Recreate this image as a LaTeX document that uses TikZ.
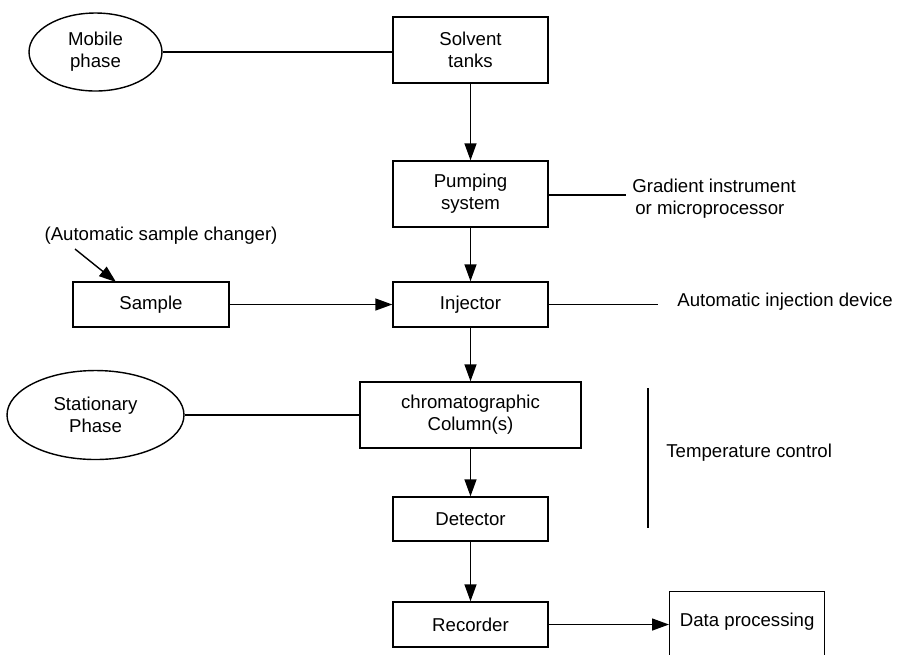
\documentclass[tikz,border=0pt]{standalone}
\usepackage{fontspec}
\setmainfont{Liberation Sans}
\usetikzlibrary{shapes.geometric,arrows.meta}
\tikzset{
	box/.style = {draw, line width=0.8pt, align=center, inner sep=0pt},
	blob/.style = {draw, ellipse, line width=0.8pt, align=center, inner sep=0pt},
	flow/.style = {line width=0.8pt, -{Triangle[length=0.34cm, width=0.24cm]}},
	tie/.style = {line width=0.8pt}
}
\begin{document}
\begin{tikzpicture} [x = 0.02cm, y = -0.02cm, font = \fontsize{10.6}{12.4}\selectfont]
	\clip (0,0) rectangle (902,654);
	\useasboundingbox (0,0) rectangle (902,654);
	\node [blob, minimum width = 2.66cm, minimum height = 1.56cm] (mobile) at (95.5,52) {Mobile\\phase};
	\node [box, minimum width = 3.1cm, minimum height = 1.32cm] (tanks) at (470.5,50) {Solvent\\tanks};
	\node [box, minimum width = 3.1cm, minimum height = 1.32cm] (pump) at (470.5,194) {Pumping\\system};
	\node [box, minimum width = 3.1cm, minimum height = 0.9cm] (inj) at (470.5,304.5) {Injector};
	\node [box, minimum width = 3.12cm, minimum height = 0.9cm] (sample) at (151,304.5) {Sample};
	\node [box, minimum width = 4.42cm, minimum height = 1.32cm] (column) at (470.5,415) {chromatographic\\Column(s)};
	\node [blob, minimum width = 3.54cm, minimum height = 1.78cm] (station) at (95.5,415) {Stationary\\Phase};
	\node [box, minimum width = 3.1cm, minimum height = 0.88cm] (det) at (470.5,519) {Detector};
	\node [box, minimum width = 3.1cm, minimum height = 0.9cm] (rec) at (470.5,624.5) {Recorder};
	\node [box, anchor = north west, minimum width = 3.1cm, text height = 0.69cm, text depth = 0.9cm] (data) at (669,591) {Data processing};
	% side notes
	\node [anchor = west, align = left, inner sep = 0pt] (grad) at (632,199) {Gradient instrument\\\hspace*{0.06cm}or microprocessor};
	\node [anchor = west, inner sep = 0pt] (autoinj) at (677,302) {Automatic injection device};
	\node [inner sep = 0pt] (changer) at (161,236) {(Automatic sample changer)};
	\node [anchor = west, inner sep = 0pt] (temp) at (666,453) {Temperature control};
	\coordinate (gradend) at (626,195);
	\coordinate (injend) at (658,304);
	\coordinate (changertail) at (75,249);
	\coordinate (changertip) at (116,282);
	\coordinate (tctop) at (648,388);
	\coordinate (tcbot) at (648,528);
	\draw [tie] (mobile.east) -- (mobile.east -| tanks.west);
	\draw [flow] (tanks) -- (pump);
	\draw [flow] (pump) -- (inj);
	\draw [flow] (sample) -- (inj);
	\draw [flow] (inj) -- (column);
	\draw [tie] (station.east) -- (station.east -| column.west);
	\draw [flow] (column) -- (det);
	\draw [flow] (det) -- (rec);
	\draw [flow] (rec.east) -- (rec.east -| data.west);
	\draw [tie] (pump.east |- gradend) -- (gradend);
	\draw [tie] (inj.east) -- (inj.east -| injend);
	\draw [flow] (changertail) -- (changertip);
	\draw [line width = 1.1pt] (tctop) -- (tcbot);
\end{tikzpicture}
\end{document}
